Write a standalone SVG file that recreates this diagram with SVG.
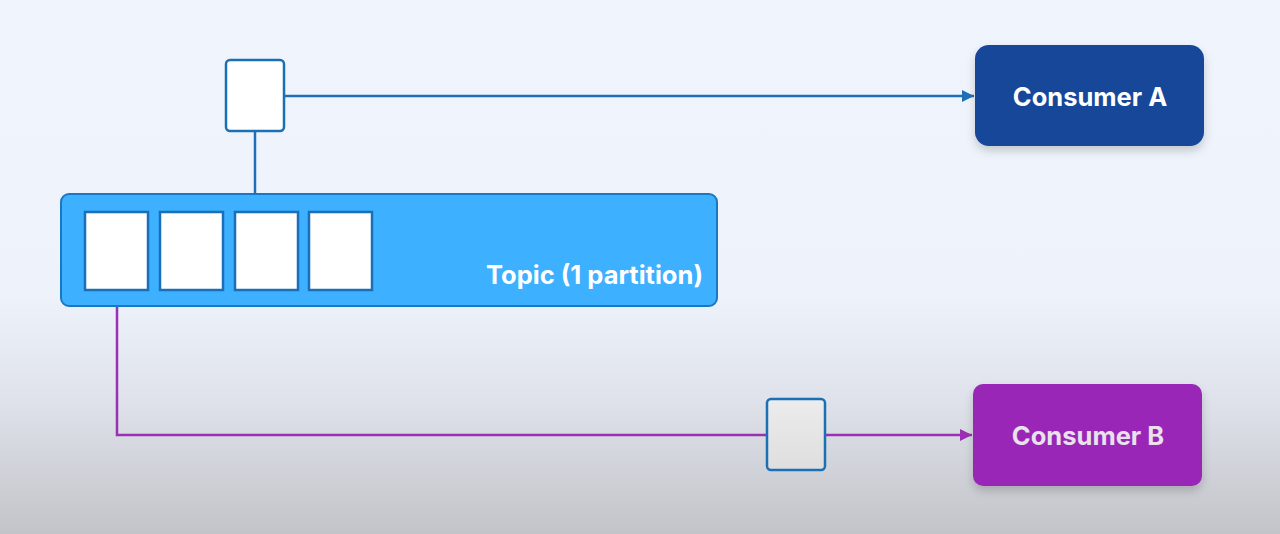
<svg xmlns="http://www.w3.org/2000/svg" width="1280" height="534" viewBox="0 0 1280 534">
<defs>
<linearGradient id="bg" x1="0" y1="0" x2="0" y2="1">
<stop offset="0" stop-color="#f0f5fd"/>
<stop offset="0.55" stop-color="#eef3fb"/>
<stop offset="0.75" stop-color="#dfe2ea"/>
<stop offset="1" stop-color="#c2c4c9"/>
</linearGradient>
<linearGradient id="msgB" x1="0" y1="0" x2="0" y2="1">
<stop offset="0" stop-color="#ececec"/>
<stop offset="1" stop-color="#dedede"/>
</linearGradient>
<filter id="sh" x="-10%" y="-10%" width="120%" height="140%">
<feDropShadow dx="0" dy="5" stdDeviation="5" flood-color="#000" flood-opacity="0.18"/>
</filter>
<marker id="arrA" viewBox="0 0 10 10" refX="10" refY="5" markerWidth="12" markerHeight="12" markerUnits="userSpaceOnUse" orient="auto">
<path d="M0,0 L10,5 L0,10 z" fill="#1f6fb8"/>
</marker>
<marker id="arrB" viewBox="0 0 10 10" refX="10" refY="5" markerWidth="12" markerHeight="12" markerUnits="userSpaceOnUse" orient="auto">
<path d="M0,0 L10,5 L0,10 z" fill="#9b2fb5"/>
</marker>
</defs>
<style>
.msg{fill:#fff;stroke:#1a6fb5;stroke-width:2.5}
.slot{fill:#fff;stroke:#1a70b8;stroke-width:2.5}
.lbl{font-family:"Inter","Liberation Sans",sans-serif;font-weight:700;font-size:25.5px;text-anchor:middle}
.lineA{fill:none;stroke:#1f6fb8;stroke-width:2.5}
.lineB{fill:none;stroke:#9b2fb5;stroke-width:2.5}
</style>
<rect x="0" y="0" width="1280" height="534" fill="url(#bg)"/>
<g id="connectors">
<path class="lineA" d="M255,131 V195"/>
<path class="lineA" d="M284,96 H974" marker-end="url(#arrA)"/>
<path class="lineB" d="M117,306 V435 H972" marker-end="url(#arrB)"/>
</g>
<g id="topic">
<rect x="61" y="194" width="656" height="112" rx="8" fill="#3db0ff" stroke="#1a78c2" stroke-width="2"/>
<rect class="slot" x="85" y="212" width="63" height="78"/>
<rect class="slot" x="160" y="212" width="63" height="78"/>
<rect class="slot" x="235" y="212" width="63" height="78"/>
<rect class="slot" x="309" y="212" width="63" height="78"/>
<text x="703" y="284" fill="#fff" style="font-family:'Inter','Liberation Sans',sans-serif;font-weight:700;font-size:25.5px;text-anchor:end">Topic (1 partition)</text>
</g>
<g id="messageA">
<rect class="msg" x="226" y="60" width="58" height="71" rx="4"/>
</g>
<g id="messageB">
<rect class="msg" x="767" y="399" width="58" height="71" rx="4" style="fill:url(#msgB)"/>
</g>
<g id="consumerA">
<rect x="975" y="45" width="229" height="101" rx="14" fill="#134699" filter="url(#sh)"/>
<text class="lbl" x="1090" y="106" fill="#fff">Consumer A</text>
</g>
<g id="consumerB">
<rect x="973" y="384" width="229" height="102" rx="10" fill="#9a28b8" filter="url(#sh)"/>
<text class="lbl" x="1088" y="445" fill="#e9e2ec">Consumer B</text>
</g>
</svg>
